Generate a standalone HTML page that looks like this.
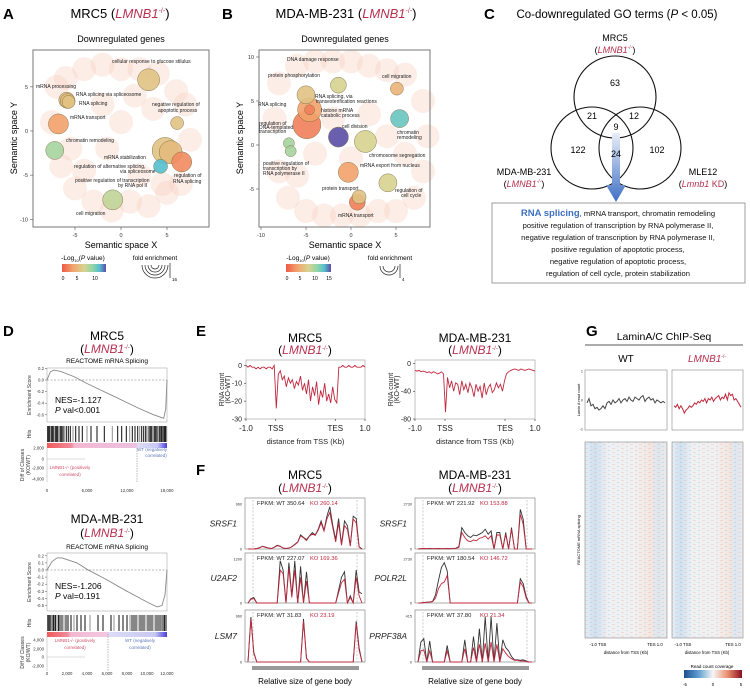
<!DOCTYPE html>
<html><head><meta charset="utf-8">
<style>
body{margin:0;background:#fff;}
svg{display:block;font-family:"Liberation Sans",Arial,sans-serif;}
.red{fill:#b8304f;}
</style></head>
<body>
<svg id="fig" width="750" height="690" viewBox="0 0 750 690" xmlns="http://www.w3.org/2000/svg">
<defs>
<linearGradient id="pvalGrad" x1="0" x2="1" y1="0" y2="0">
<stop offset="0" stop-color="#ee5a48"/><stop offset="0.25" stop-color="#f3a36c"/><stop offset="0.5" stop-color="#d8d390"/><stop offset="0.7" stop-color="#8fd5a8"/><stop offset="0.85" stop-color="#56bfcf"/><stop offset="1" stop-color="#5a4ea6"/>
</linearGradient>
<linearGradient id="rankGrad1" x1="0" x2="1">
<stop offset="0" stop-color="#ef5a5a"/><stop offset="0.2" stop-color="#f08a9a"/><stop offset="0.23" stop-color="#f3b8d2"/><stop offset="0.74" stop-color="#ecc0e0"/><stop offset="0.76" stop-color="#dcdcf6"/><stop offset="0.92" stop-color="#c8c8f2"/><stop offset="1" stop-color="#4a3fd8"/>
</linearGradient>
<linearGradient id="rankGrad2" x1="0" x2="1">
<stop offset="0" stop-color="#ef5a5a"/><stop offset="0.17" stop-color="#f08a9a"/><stop offset="0.2" stop-color="#f3b8d2"/><stop offset="0.5" stop-color="#f3c8e0"/><stop offset="0.52" stop-color="#dcdcf6"/><stop offset="0.9" stop-color="#c8c8f2"/><stop offset="1" stop-color="#4a3fd8"/>
</linearGradient>
<linearGradient id="arrowGrad" x1="0" x2="0" y1="0" y2="1">
<stop offset="0" stop-color="#e8eef8"/><stop offset="1" stop-color="#3f6fc4"/>
</linearGradient>
<linearGradient id="rcGrad" x1="0" x2="1">
<stop offset="0" stop-color="#1d4f8f"/><stop offset="0.25" stop-color="#5f9fd0"/><stop offset="0.5" stop-color="#f6f6f6"/><stop offset="0.75" stop-color="#ec9070"/><stop offset="1" stop-color="#8a0f20"/>
</linearGradient>
<linearGradient id="hmBand" x1="0" x2="1">
<stop offset="0" stop-color="#e6eef5"/><stop offset="0.12" stop-color="#cfe0ef"/><stop offset="0.28" stop-color="#eef0f3"/><stop offset="0.6" stop-color="#f2f0f0"/><stop offset="0.8" stop-color="#f3e6e0"/><stop offset="0.9" stop-color="#dde7f0"/><stop offset="1" stop-color="#eeeaea"/>
</linearGradient>
<pattern id="hmStripes" width="9" height="4" patternUnits="userSpaceOnUse">
<rect width="3" height="1" fill="#e9a088" opacity="0.25"/><rect x="5" y="2" width="2" height="1" fill="#6fa6d6" opacity="0.25"/>
</pattern>
</defs>

<!-- ===== Panel A ===== -->
<g>
<text x="3" y="19" font-size="15" font-weight="bold">A</text>
<text x="120" y="18" font-size="13" text-anchor="middle">MRC5 (<tspan class="red" font-style="italic">LMNB1</tspan><tspan class="red" font-size="7" dy="-5">-/-</tspan><tspan dy="5">)</tspan></text>
<text x="121" y="42" font-size="9" text-anchor="middle">Downregulated genes</text>
<g id="bgA"></g><g id="bubA"></g>
<rect x="33" y="50" width="176" height="177" fill="none" stroke="#777" stroke-width="1"/>
<g id="axA" font-size="5.5" fill="#333"></g>
<text x="121" y="248" font-size="9" text-anchor="middle">Semantic space X</text>
<text transform="translate(17,138) rotate(-90)" font-size="9" text-anchor="middle">Semantic space Y</text>
<g font-size="5" fill="#222">
<text x="112" y="63">cellular response to glucose stilulus</text>
<text x="36" y="88">mRNA processing</text>
<text x="76" y="96">RNA splicing via spliceosome</text>
<text x="79" y="105">RNA splicing</text>
<text x="70" y="119">mRNA transport</text>
<text x="152" y="106">negative regulation of</text><text x="158" y="112">apoptotic process</text>
<text x="66" y="142">chromatin remodeling</text>
<text x="104" y="159">mRNA stabilization</text>
<text x="74" y="168">regulation of alternative splicing,</text><text x="120" y="173">via spliceosome</text>
<text x="75" y="182">positive regulation of transcription</text><text x="118" y="187">by RNA pol II</text>
<text x="174" y="177">regulation of</text><text x="173" y="183">RNA splicing</text>
<text x="76" y="215">cell migration</text>
</g>
<text x="83" y="260" font-size="6.5" text-anchor="middle">-Log<tspan font-size="4" dy="2">10</tspan><tspan dy="-2">(</tspan><tspan font-style="italic">P</tspan> value)</text>
<rect x="62" y="264" width="44" height="8" fill="url(#pvalGrad)"/>
<g font-size="5" text-anchor="middle"><text x="63" y="280">0</text><text x="77" y="280">5</text><text x="95" y="280">10</text></g>
<text x="155" y="260" font-size="6.5" text-anchor="middle">fold enrichment</text>
<g fill="none" stroke="#222" stroke-width="0.7">
<path d="M142,265 A13,13 0 0 0 168,265"/><path d="M145,265 A10,10 0 0 0 165,265"/><path d="M148,265 A7,7 0 0 0 162,265"/><path d="M151,265 A4,4 0 0 0 159,265"/><line x1="170" y1="263" x2="170" y2="278"/>
</g>
<text x="172" y="281" font-size="4.5">16</text>
</g>

<!-- ===== Panel B ===== -->
<g>
<text x="222" y="19" font-size="15" font-weight="bold">B</text>
<text x="346" y="18" font-size="13" text-anchor="middle">MDA-MB-231 (<tspan class="red" font-style="italic">LMNB1</tspan><tspan class="red" font-size="7" dy="-5">-/-</tspan><tspan dy="5">)</tspan></text>
<text x="345" y="42" font-size="9" text-anchor="middle">Downregulated genes</text>
<g id="bgB"></g><g id="bubB"></g>
<rect x="259" y="50" width="171" height="177" fill="none" stroke="#777" stroke-width="1"/>
<g id="axB" font-size="5.5" fill="#333"></g>
<text x="345" y="248" font-size="9" text-anchor="middle">Semantic space X</text>
<text transform="translate(243,138) rotate(-90)" font-size="9" text-anchor="middle">Semantic space Y</text>
<g font-size="5" fill="#222">
<text x="287" y="61">DNA damage response</text>
<text x="268" y="77">protein phosphorylation</text>
<text x="382" y="78">cell migration</text>
<text x="315" y="98">RNA splicing, via</text><text x="316" y="103">transesterification reactions</text>
<text x="258" y="106">RNA splicing</text>
<text x="321" y="112">histone mRNA</text><text x="321" y="117">catabolic process</text>
<text x="259" y="125">regulation of</text><text x="259" y="129">DNA-templated</text><text x="259" y="133">transcription</text>
<text x="342" y="128">cell division</text>
<text x="397" y="134">chromatin</text><text x="397" y="139">remodeling</text>
<text x="369" y="157">chromosome segregation</text>
<text x="263" y="165">positive regulation of</text><text x="263" y="170">transcription by</text><text x="263" y="175">RNA polymerase II</text>
<text x="360" y="167">mRNA export from nucleus</text>
<text x="322" y="190">protein transport</text>
<text x="395" y="192">regulation of</text><text x="401" y="197">cell cycle</text>
<text x="338" y="217">mRNA transport</text>
</g>
<text x="308" y="260" font-size="6.5" text-anchor="middle">-Log<tspan font-size="4" dy="2">10</tspan><tspan dy="-2">(</tspan><tspan font-style="italic">P</tspan> value)</text>
<rect x="286" y="264" width="45" height="8" fill="url(#pvalGrad)"/>
<g font-size="5" text-anchor="middle"><text x="287" y="280">0</text><text x="300" y="280">5</text><text x="315" y="280">10</text><text x="329" y="280">15</text></g>
<text x="390" y="260" font-size="6.5" text-anchor="middle">fold enrichment</text>
<g fill="none" stroke="#222" stroke-width="0.7">
<path d="M380,266 A9,9 0 0 0 398,266"/><path d="M383,266 A6,6 0 0 0 395,266"/><line x1="400" y1="264" x2="400" y2="278"/>
</g>
<text x="402" y="281" font-size="4.5">4</text>
</g>

<!-- ===== Panel C ===== -->
<g>
<text x="484" y="19" font-size="15" font-weight="bold">C</text>
<text x="617" y="18" font-size="11.5" text-anchor="middle">Co-downregulated  GO terms (<tspan font-style="italic">P</tspan> &lt; 0.05)</text>
<text x="615" y="41" font-size="9" text-anchor="middle">MRC5</text>
<text x="615" y="53" font-size="9" text-anchor="middle">(<tspan class="red" font-style="italic">LMNB1</tspan><tspan class="red" font-size="5" dy="-4">-/-</tspan><tspan dy="4">)</tspan></text>
<g fill="none" stroke="#111" stroke-width="1.1">
<circle cx="615" cy="97" r="41"/>
<circle cx="592" cy="148" r="41"/>
<circle cx="640" cy="148" r="41"/>
</g>
<path d="M612,133 h8 v52 h6 l-10,17 l-10,-17 h6 z" fill="url(#arrowGrad)"/>
<g font-size="9" text-anchor="middle">
<text x="615" y="86">63</text><text x="592" y="119">21</text><text x="634" y="119">12</text><text x="616" y="130">9</text>
<text x="578" y="153">122</text><text x="616" y="157">24</text><text x="657" y="153">102</text>
</g>
<text x="524" y="175" font-size="9" text-anchor="middle">MDA-MB-231</text>
<text x="524" y="187" font-size="9" text-anchor="middle">(<tspan class="red" font-style="italic">LMNB1</tspan><tspan class="red" font-size="5" dy="-4">-/-</tspan><tspan dy="4">)</tspan></text>
<text x="703" y="175" font-size="9" text-anchor="middle">MLE12</text>
<text x="703" y="187" font-size="9" text-anchor="middle">(<tspan class="red" font-style="italic">Lmnb1</tspan><tspan class="red"> KD</tspan>)</text>
<rect x="492" y="203" width="253" height="80" fill="#fff" stroke="#888" stroke-width="0.8"/>
<g font-size="7.6" text-anchor="middle" fill="#111">
<text x="618" y="216"><tspan fill="#3d6fbf" font-weight="bold" font-size="9.5">RNA splicing</tspan>, mRNA transport, chromatin remodeling</text>
<text x="618" y="228">positive regulation of transcription by RNA polymerase II,</text>
<text x="618" y="240">negative regulation of transcription by RNA polymerase II,</text>
<text x="618" y="252">positive regulation of apoptotic process,</text>
<text x="618" y="264">negative regulation of apoptotic process,</text>
<text x="618" y="276">regulation of cell cycle, protein stabilization</text>
</g>
</g>

<!-- ===== Panel D ===== -->
<g>
<text x="3" y="336" font-size="15" font-weight="bold">D</text>
<text x="107" y="340" font-size="12" text-anchor="middle">MRC5</text>
<text x="107" y="353" font-size="12" text-anchor="middle">(<tspan class="red" font-style="italic">LMNB1</tspan><tspan class="red" font-size="6" dy="-4">-/-</tspan><tspan dy="4">)</tspan></text>
<text x="107" y="363" font-size="6.5" text-anchor="middle">REACTOME mRNA Splicing</text>
<g id="gsea1"></g>
<text x="55" y="403" font-size="8.5">NES=-1.127</text>
<text x="55" y="413" font-size="8.5"><tspan font-style="italic">P</tspan> val&lt;0.001</text>
<text x="107" y="523" font-size="12" text-anchor="middle">MDA-MB-231</text>
<text x="107" y="537" font-size="12" text-anchor="middle">(<tspan class="red" font-style="italic">LMNB1</tspan><tspan class="red" font-size="6" dy="-4">-/-</tspan><tspan dy="4">)</tspan></text>
<text x="107" y="549" font-size="6.5" text-anchor="middle">REACTOME mRNA Splicing</text>
<g id="gsea2"></g>
<text x="55" y="589" font-size="8.5">NES=-1.206</text>
<text x="55" y="599" font-size="8.5"><tspan font-style="italic">P</tspan> val=0.191</text>
</g>

<!-- ===== Panel E ===== -->
<g>
<text x="196" y="336" font-size="15" font-weight="bold">E</text>
<text x="305" y="342" font-size="12" text-anchor="middle">MRC5</text>
<text x="305" y="354" font-size="12" text-anchor="middle">(<tspan class="red" font-style="italic">LMNB1</tspan><tspan class="red" font-size="6" dy="-4">-/-</tspan><tspan dy="4">)</tspan></text>
<text x="475" y="342" font-size="12" text-anchor="middle">MDA-MB-231</text>
<text x="475" y="354" font-size="12" text-anchor="middle">(<tspan class="red" font-style="italic">LMNB1</tspan><tspan class="red" font-size="6" dy="-4">-/-</tspan><tspan dy="4">)</tspan></text>
<g id="prof1"></g><g id="prof2"></g>
</g>

<!-- ===== Panel F ===== -->
<g>
<text x="196" y="475" font-size="15" font-weight="bold">F</text>
<text x="305" y="479" font-size="12" text-anchor="middle">MRC5</text>
<text x="305" y="492" font-size="12" text-anchor="middle">(<tspan class="red" font-style="italic">LMNB1</tspan><tspan class="red" font-size="6" dy="-4">-/-</tspan><tspan dy="4">)</tspan></text>
<text x="475" y="479" font-size="12" text-anchor="middle">MDA-MB-231</text>
<text x="475" y="492" font-size="12" text-anchor="middle">(<tspan class="red" font-style="italic">LMNB1</tspan><tspan class="red" font-size="6" dy="-4">-/-</tspan><tspan dy="4">)</tspan></text>
<g id="tracks"></g>
<rect x="252" y="666" width="107" height="4" fill="#999"/>
<rect x="422" y="666" width="107" height="4" fill="#999"/>
<text x="305" y="684" font-size="8" text-anchor="middle">Relative size of gene body</text>
<text x="475" y="684" font-size="8" text-anchor="middle">Relative size of gene body</text>
</g>

<!-- ===== Panel G ===== -->
<g>
<text x="586" y="336" font-size="15" font-weight="bold">G</text>
<text x="664" y="340" font-size="10.5" text-anchor="middle">LaminA/C  ChIP-Seq</text>
<line x1="585" y1="345" x2="743" y2="345" stroke="#222" stroke-width="0.8"/>
<text x="626" y="362" font-size="10" text-anchor="middle">WT</text>
<text x="707" y="362" font-size="10" text-anchor="middle"><tspan class="red" font-style="italic">LMNB1</tspan><tspan class="red" font-size="5" dy="-4">-/-</tspan></text>
<text transform="translate(580,400) rotate(-90)" font-size="3.8" text-anchor="middle">Lamin A read count</text>
<g id="gprof"></g>
<text transform="translate(580,540) rotate(-90)" font-size="4" text-anchor="middle">REACTOME mRNA splicing</text>
<g>
<rect x="585" y="442" width="82" height="196" fill="url(#hmBand)"/>
<rect x="585" y="442" width="82" height="196" fill="url(#hmStripes)"/>
<rect x="585" y="442" width="82" height="196" fill="none" stroke="#888" stroke-width="0.6"/>
</g>
<g>
<rect x="672" y="442" width="71" height="196" fill="url(#hmBand)"/>
<rect x="672" y="442" width="71" height="196" fill="url(#hmStripes)"/>
<rect x="672" y="442" width="71" height="196" fill="none" stroke="#888" stroke-width="0.6"/>
</g>
<g font-size="4.3" text-anchor="middle">
<text x="598" y="646">-1.0 TSS</text><text x="655" y="646">TES  1.0</text>
<text x="683" y="646">-1.0 TSS</text><text x="733" y="646">TES  1.0</text>
<text x="626" y="654">distance from TSS (Kb)</text><text x="707" y="654">distance from TSS (Kb)</text>
</g>
<text x="712" y="668" font-size="4.5" text-anchor="middle">Read count coverage</text>
<rect x="684" y="670" width="58" height="8" fill="url(#rcGrad)"/>
<g font-size="4.3" text-anchor="middle"><text x="685" y="686">-5</text><text x="713" y="686">0</text><text x="741" y="686">5</text></g>
</g>
</svg>

<script>
// ---------- Data: panel A ----------
const aTerms = ["cellular response to glucose stilulus","mRNA processing","RNA splicing via spliceosome","RNA splicing","mRNA transport","negative regulation of apoptotic process","chromatin remodeling","mRNA stabilization","regulation of alternative splicing","regulation of RNA splicing","positive regulation of transcription by RNA pol II","cell migration"];
const aX = [3.0,-5.9,-5.8,-5.7,-6.8,6.1,-7.2,4.8,5.4,6.6,4.3,-0.9];
const aY = [5.8,3.5,3.4,3.3,0.8,0.9,-2.2,-2.2,-2.4,-3.5,-4.0,-7.8];
const aFold = [11,8,7.5,6.5,10,6.5,9,13,11.5,10,7,10];
const aLogP = [5,5,4.5,5,3,5,8,5,4.5,2,12,7];
const aBgX = [-6,-4,-2,0,2,4,6,-7,7,-7.5,7.5,-6.5,6.5,-5,5,-3,3,-1,1,-4,2,0,-2,3.5,-5.5,1.5,-1.5,4.5];
const aBgY = [6,7,7.5,7,7,6.5,4.5,5,3,1,-1,-4,-6,-6.5,-7,-8,-8.5,-9,-8,-4.5,-5,1,3,2.5,-2,4,-2,-6];
// ---------- Data: panel B ----------
const bTerms = ["DNA damage response","protein phosphorylation","RNA splicing, via transesterification","RNA splicing","histone mRNA catabolic process","cell migration","chromatin remodeling","cell division","chromosome segregation","regulation of DNA-templated transcription","positive regulation of transcription by RNA pol II","mRNA export from nucleus","regulation of cell cycle","mRNA transport","protein transport"];
const bX = [-1.4,-5.0,-4.6,-4.6,-4.9,5.1,5.4,-1.4,1.6,-6.9,-6.7,-0.3,4.1,0.7,0.9];
const bY = [6.8,5.7,4.0,4.0,2.3,6.4,3.0,0.9,0.4,0.2,-0.7,-3.1,-4.3,-6.5,-5.9];
const bFold = [8,9,12,5,14,6.5,9,10,11,5.5,5.5,10,9,8,7];
const bLogP = [6,5,3,1.5,1.5,4,11,15,6,8,8,3,6,1.5,5];
const bBgX = [-8,-6,-4,-2,0,2,4,6,8,-8.5,8.5,-8,8,-7,7,-5,5,-3,3,-1,1,-6,2,-2,4,0,6,-4];
const bBgY = [7,9,9.5,9.5,9.5,9,8.5,8,5,3,1,-3,-3,-6,-6,-7.5,-7.5,-8,-7.5,-8,-8,-3.5,3.5,3,1,-1.5,-1,-1];

// ---------- Data: panel D (GSEA) ----------
const es1Rank = [0,500,1000,2000,4000,6000,8000,10000,12000,14000,16000,17000,17500,17800,18000];
const es1Val = [0,0.14,0.17,0.15,0.06,-0.06,-0.17,-0.28,-0.39,-0.5,-0.6,-0.64,-0.66,-0.5,0];
const hits1 = [100,250,400,550,700,800,950,1100,1300,1450,1600,1800,2000,2200,2400,2600,2900,3200,3500,3900,4300,4800,5300,6000,6600,7500,8600,9800,10600,11200,11900,12400,12800,13200,13600,13900,14200,14500,14800,15000,15300,15500,15700,15900,16100,16300,16500,16700,16900,17100,17250,17400,17550,17700,17850,17950];
const es2Rank = [0,500,1000,1500,3000,4000,6000,8000,10000,11000,11500,11800,12000];
const es2Val = [0,0.12,0.17,0.17,0.1,0.01,-0.14,-0.3,-0.45,-0.52,-0.5,-0.35,0];
const hits2 = [80,200,320,450,600,700,850,1000,1150,1300,1500,1700,1900,2100,2400,2700,3000,3400,3800,4300,5100,5600,6400,6700,7200,7600,8000,8300,8500,8700,8900,9100,9300,9500,9700,9900,10100,10300,10500,10700,10900,11100,11300,11450,11600,11750,11900];
const es1Ticks = [0.2,0.0,-0.2,-0.4,-0.6];
const es2Ticks = [0.2,0.1,0.0,-0.1,-0.2,-0.3,-0.4,-0.5];
const rank1Ticks = [0,6000,12000,18000];
const rank2Ticks = [0,2000,4000,6000,8000,10000,12000];

// ---------- Data: panel E (RNA count profiles) ----------
const e1Vals = [0,-1,0,-1,-1,-2,-1,-2,-1,-1,-2,-1,-1,-2,0,-24,-5,-3,-8,-6,-12,-7,-10,-8,-13,-9,-11,-6,-14,-10,-16,-8,-20,-12,-17,-9,-22,-14,-18,-10,-20,-16,-21,-12,-19,-21,-1,-1,0,-1,-1,0,-1,-1,0,-1,-1,-1,0,-1];
const e2Vals = [-10,-11,-10,-12,-11,-12,-13,-12,-14,-12,-13,-15,-14,-12,-15,-70,-20,-35,-25,-40,-28,-30,-45,-25,-38,-30,-42,-28,-35,-48,-30,-40,-33,-50,-28,-45,-35,-30,-42,-38,-28,-35,-30,-40,-25,-15,-12,-10,-9,-8,-9,-10,-8,-9,-10,-9,-8,-9,-10,-11];
const e1Ticks = [0,-10,-20,-30];
const e2Ticks = [0,-40,-80];
const eXTicks = ["-1.0","TSS","TES","1.0"];

// ---------- Data: panel F (coverage tracks) ----------
const fGenes = ["SRSF1","U2AF2","LSM7","SRSF1","POLR2L","PRPF38A"];
const fMax = [960,1200,960,2730,2730,415];
const fWtFpkm = ["350.64","227.07","31.83","221.92","180.54","37.80"];
const fKoFpkm = ["260.14","169.36","23.19","153.88","146.72","21.34"];
const fWt = [
[0,0,0,10,30,60,40,20,10,40,80,60,20,10,20,50,100,150,300,250,200,280,350,300,420,600,400,700,900,500,200,650,100,600,500,80,700,650,50,0],
[0,120,150,0,0,0,0,0,0,0,0,1150,900,0,1100,200,1150,0,1000,0,850,0,0,0,0,0,0,0,0,0,0,350,700,850,0,200,0,900,300,250],
[0,940,200,0,0,0,0,0,0,0,0,0,0,0,0,0,0,0,0,900,80,0,0,0,0,0,0,0,0,0,0,0,0,0,0,0,0,850,300,0],
[0,20,30,20,30,20,20,30,20,20,30,20,30,50,150,1300,1000,800,700,850,800,900,1000,1200,900,1100,0,1000,1000,0,1000,0,1300,0,0,2400,1800,0,0,0],
[0,0,30,50,60,100,500,1400,2200,2500,2000,0,0,0,0,0,0,0,0,0,0,0,0,0,0,0,0,0,0,0,0,0,0,0,0,1500,1200,400,0,0],
[0,180,210,0,190,0,0,0,0,0,150,0,0,0,0,0,200,0,0,230,0,300,0,410,0,410,0,350,0,200,130,100,50,20,20,15,20,10,0,0]];
const fKo = [
[0,0,0,10,25,55,35,20,10,35,70,55,20,10,20,45,90,140,280,240,180,270,320,290,400,560,380,640,780,450,150,560,80,500,420,60,640,560,40,0],
[0,100,120,0,0,0,0,0,0,0,0,900,800,0,950,150,900,0,700,0,600,0,0,0,0,0,0,0,0,0,0,280,550,650,0,150,0,700,200,0],
[0,900,180,0,0,0,0,0,0,0,0,0,0,0,0,0,0,0,0,850,70,0,0,0,0,0,0,0,0,0,0,0,0,0,0,0,0,800,250,0],
[0,20,30,20,30,20,20,30,20,20,30,20,30,40,100,1000,700,500,450,550,500,650,700,800,600,800,0,850,850,0,900,0,1200,0,0,2100,1500,0,0,0],
[0,0,30,40,60,80,300,900,1200,1300,1700,0,0,0,0,0,0,0,0,0,0,0,0,0,0,0,0,0,0,0,0,0,0,0,0,1300,1000,300,0,0],
[0,100,110,0,100,0,0,0,0,0,100,0,0,0,0,0,120,0,0,130,0,160,0,170,0,180,0,160,0,120,80,50,30,15,15,10,10,5,0,0]];

// ---------- Data: panel G (ChIP profiles) ----------
const gWt = [-0.1,0.05,-0.2,-0.15,-0.3,-0.25,-0.35,-0.3,-0.2,-0.3,-0.1,-0.05,-0.15,0,-0.1,-0.05,0.05,-0.1,0,0.05,-0.05,0.1,0,-0.05,0.1,0.05,0,0.1,0.15,-0.05,0.05,0.1,0,0.05,-0.1,0,-0.05,-0.1,-0.05,-0.1];
const gKo = [-0.2,-0.25,-0.15,-0.3,-0.2,-0.3,-0.45,-0.35,-0.3,-0.2,-0.25,-0.2,-0.1,-0.15,-0.05,-0.1,0,-0.05,0.05,-0.1,0.05,0,0.1,-0.05,0.05,0.1,0.15,0,0.1,0.05,0.2,0,0.25,0.15,0.2,0,0.05,-0.05,-0.15,-0.25];
const gTicks = [1,0,-1];

const NS = "http://www.w3.org/2000/svg";
function mk(parent, tag, attrs){ const e=document.createElementNS(NS,tag); for(const k in attrs) e.setAttribute(k,attrs[k]); parent.appendChild(e); return e; }
function txt(parent, x, y, s, size, anchor, fill){ const t=mk(parent,"text",{x:x,y:y,"font-size":size,"text-anchor":anchor||"start",fill:fill||"#222"}); t.textContent=s; return t; }
const stops=[[0,[238,90,72]],[3,[243,163,108]],[6,[216,211,144]],[9,[143,213,168]],[12,[86,191,207]],[15,[90,78,166]]];
function pcol(v){ v=Math.max(0,Math.min(15,v)); for(let i=0;i<stops.length-1;i++){ if(v<=stops[i+1][0]){ const t=(v-stops[i][0])/(stops[i+1][0]-stops[i][0]); const a=stops[i][1],b=stops[i+1][1]; return "rgb("+a.map((c,j)=>Math.round(c+(b[j]-c)*t)).join(",")+")"; } } return "rgb(90,78,166)"; }

// ----- bubble plots -----
function bubbles(bgId,bubId,axId,xs,ys,folds,lps,bgx,bgy,sx,sy,xt,yt,box){
  const bg=document.getElementById(bgId), bb=document.getElementById(bubId), ax=document.getElementById(axId);
  for(let i=0;i<bgx.length;i++){
    const c=mk(bg,"circle",{cx:sx(bgx[i]),cy:sy(bgy[i]),r:12,fill:"#f7d3c4",opacity:0.4});
    
    
  }
  const order=xs.map((_,i)=>i).sort((a,b)=>folds[b]-folds[a]);
  order.forEach(i=>{
    const c=mk(bb,"circle",{cx:sx(xs[i]),cy:sy(ys[i]),r:folds[i],fill:pcol(lps[i]),stroke:"#7a6a40","stroke-width":0.5,opacity:0.9});
    
    
  });
  xt.forEach(v=>{ mk(ax,"line",{x1:sx(v),x2:sx(v),y1:box.b,y2:box.b+3,stroke:"#555","stroke-width":0.6}); txt(ax,sx(v),box.b+10,String(v),5.5,"middle","#333"); });
  yt.forEach(v=>{ mk(ax,"line",{x1:box.l-3,x2:box.l,y1:sy(v),y2:sy(v),stroke:"#555","stroke-width":0.6}); txt(ax,box.l-5,sy(v)+2,String(v),5.5,"end","#333"); });
}
bubbles("bgA","bubA","axA",aX,aY,aFold,aLogP,aBgX,aBgY,x=>121+x*9.2,y=>131-y*8.83,[-5,0,5],[5,0,-5,-10],{l:33,b:227});
bubbles("bgB","bubB","axB",bX,bY,bFold,bLogP,bBgX,bBgY,x=>351+x*9.0,y=>145-y*8.8,[-10,-5,0,5],[10,5,0,-5],{l:259,b:227});

// ----- GSEA -----
function fmtK(v){ return v===0?"0":v.toLocaleString("en-US"); }
function gsea(id,ranks,vals,hits,maxRank,esTop,esBot,esZero,esScale,esTicks,rankTicks,grad,dashRank,diffTop,diffBot,diffTicks,diffZeroY,tickY,posLbl,negLbl){
  const g=document.getElementById(id);
  const L=47,R=167, sx=r=>L+r/maxRank*(R-L), sy=v=>esZero-v*esScale;
  mk(g,"rect",{x:L,y:esTop,width:R-L,height:esBot-esTop,fill:"none",stroke:"#aaa","stroke-width":0.6});
  mk(g,"line",{x1:L,x2:R,y1:esZero,y2:esZero,stroke:"#777","stroke-width":0.6,"stroke-dasharray":"2,1.5"});
  esTicks.forEach(v=>{ mk(g,"line",{x1:L-2,x2:L,y1:sy(v),y2:sy(v),stroke:"#555","stroke-width":0.5}); txt(g,L-3,sy(v)+1.5,v.toFixed(1),4.3,"end","#333"); });
  const p=mk(g,"path",{d:ranks.map((r,i)=>(i?"L":"M")+sx(r).toFixed(1)+","+sy(vals[i]).toFixed(1)).join(""),fill:"none",stroke:"#888","stroke-width":0.9});
  
  
  const hTop=esBot+4,hBot=hTop+16;
  hits.forEach((r,i)=>{
    const l=mk(g,"line",{x1:sx(r),x2:sx(r),y1:hTop,y2:hBot,stroke:(i%4===3?"#999":"#222"),"stroke-width":1.1});
    
    
  });
  mk(g,"rect",{x:L,y:hBot+1,width:R-L,height:5,fill:"url(#"+grad+")"});
  mk(g,"line",{x1:L,x2:L,y1:diffTop,y2:diffBot,stroke:"#aaa","stroke-width":0.5});
  mk(g,"line",{x1:L,x2:L+38,y1:diffZeroY,y2:diffZeroY,stroke:"#bbb","stroke-width":0.5});
  mk(g,"line",{x1:sx(dashRank),x2:sx(dashRank),y1:diffTop,y2:diffBot,stroke:"#777","stroke-width":0.5,"stroke-dasharray":"1.5,1"});
  diffTicks.forEach(t=>{ txt(g,L-3,t[1]+1.5,t[0],4.3,"end","#333"); });
  rankTicks.forEach(r=>{ txt(g,sx(r),tickY,fmtK(r),4.3,"middle","#333"); });
  posLbl.forEach(t=>txt(g,t[0],t[1],t[2],4.5,"middle","#d0506a"));
  negLbl.forEach(t=>txt(g,t[0],t[1],t[2],4.5,"middle","#5a78b8"));
  const yl=(y,s,x)=>{ const t=mk(g,"text",{transform:"translate("+x+","+y+") rotate(-90)","font-size":5,"text-anchor":"middle",fill:"#333"}); t.textContent=s; };
  yl((esTop+esBot)/2,"Enrichment Score",31); yl((hTop+hBot)/2,"Hits",31); yl((diffTop+diffBot)/2,"Diff of Classes",24); yl((diffTop+diffBot)/2,"(KO/WT)",30);
}
gsea("gsea1",es1Rank,es1Val,hits1,18000,368,422,380,58,es1Ticks,rank1Ticks,"rankGrad1",13500,448,482,[["2,000",448],["0",459],["-2,000",468],["-4,000",479]],459,492,
 [[70,469,"LMNB1-/- (positively"],[70,476,"correlated)"]],[[152,451,"WT (negatively"],[156,457,"correlated)"]]);
gsea("gsea2",es2Rank,es2Val,hits2,12000,553,611,570,71,es2Ticks,rank2Ticks,"rankGrad2",6100,634,671,[["4,000",640],["2,000",649],["0",657],["-2,000",666]],657,675,
 [[75,642,"LMNB1-/- (positively"],[75,649,"correlated)"]],[[140,642,"WT (negatively"],[140,649,"correlated)"]]);

// ----- E profiles -----
function profile(id,vals,L,R,T,B,vmax,vmin,ticks){
  const g=document.getElementById(id);
  const n=vals.length, sx=i=>L+i/(n-1)*(R-L), sy=v=>T+(vmax-v)/(vmax-vmin)*(B-T);
  mk(g,"rect",{x:L,y:T,width:R-L,height:B-T,fill:"none",stroke:"#999","stroke-width":0.6});
  const p=mk(g,"path",{d:vals.map((v,i)=>(i?"L":"M")+sx(i).toFixed(1)+","+sy(v).toFixed(1)).join(""),fill:"none",stroke:"#c0283e","stroke-width":0.9});
  
  
  ticks.forEach(v=>{ mk(g,"line",{x1:L-2,x2:L,y1:sy(v),y2:sy(v),stroke:"#333","stroke-width":0.6}); txt(g,L-4,sy(v)+2.5,String(v),7,"end","#222"); });
  const xs=[L,L+(R-L)/4,L+3*(R-L)/4,R];
  xs.forEach((x,i)=>{ mk(g,"line",{x1:x,x2:x,y1:B,y2:B+2,stroke:"#333","stroke-width":0.6}); txt(g,x,B+12,eXTicks[i],8,"middle","#222"); });
  txt(g,(L+R)/2,B+25,"distance from TSS (Kb)",7.5,"middle","#222");
  const t=mk(g,"text",{transform:"translate("+(L-22)+","+((T+B)/2)+") rotate(-90)","font-size":7,"text-anchor":"middle",fill:"#222"}); t.textContent="RNA count";
  const t2=mk(g,"text",{transform:"translate("+(L-16)+","+((T+B)/2)+") rotate(-90)","font-size":7,"text-anchor":"middle",fill:"#222"}); t2.textContent="(KO-WT)";
}
profile("prof1",e1Vals,246,365,360,419,3,-30,e1Ticks);
profile("prof2",e2Vals,415,535,360,419,5,-80,e2Ticks);

// ----- F tracks -----
(function(){
  const g=document.getElementById("tracks");
  const boxes=[[245,365,498,549],[245,365,553,603],[245,365,610,662],[415,535,498,549],[415,535,553,603],[415,535,610,662]];
  fGenes.forEach((gene,k)=>{
    const [L,R,T,B]=boxes[k], n=fWt[k].length, sx=i=>L+3+i/(n-1)*(R-L-6), sy=v=>B-v/fMax[k]*(B-T-6);
    mk(g,"rect",{x:L,y:T,width:R-L,height:B-T,fill:"#fff",stroke:"#888","stroke-width":0.7});
    [L+8,R-8].forEach(x=>mk(g,"line",{x1:x,x2:x,y1:T+2,y2:B,stroke:"#999","stroke-width":0.5,"stroke-dasharray":"2,1.5"}));
    const pw=mk(g,"path",{d:fWt[k].map((v,i)=>(i?"L":"M")+sx(i).toFixed(1)+","+sy(v).toFixed(1)).join(""),fill:"none",stroke:"#333","stroke-width":0.9});
    
    
    const pk=mk(g,"path",{d:fKo[k].map((v,i)=>(i?"L":"M")+sx(i).toFixed(1)+","+sy(v).toFixed(1)).join(""),fill:"none",stroke:"#c0283e","stroke-width":0.9});
    
    
    txt(g,L-3,sy(fMax[k])+1.5,String(fMax[k]),3.8,"end","#333");
    txt(g,L-3,B+1.5,"0",3.8,"end","#333");
    const gt=txt(g,L-8,(T+B)/2+3,gene,8.5,"end","#222"); gt.setAttribute("font-style","italic");
    txt(g,L+12,T+7,"FPKM:   WT "+fWtFpkm[k],5.8,"start","#222");
    txt(g,L+65,T+7,"KO "+fKoFpkm[k],5.8,"start","#c0283e");
  });
})();

// ----- G profiles -----
(function(){
  const g=document.getElementById("gprof");
  [[585,667,gWt,"#444"],[672,743,gKo,"#c0283e"]].forEach(([L,R,vals,col],k)=>{
    const T=370,B=430, n=vals.length, sx=i=>L+2+i/(n-1)*(R-L-4), sy=v=>400-v*29;
    mk(g,"rect",{x:L,y:T,width:R-L,height:B-T,fill:"none",stroke:"#888","stroke-width":0.6});
    const p=mk(g,"path",{d:vals.map((v,i)=>(i?"L":"M")+sx(i).toFixed(1)+","+sy(v).toFixed(1)).join(""),fill:"none",stroke:col,"stroke-width":1});
    
    
    if(k===0) gTicks.forEach(v=>txt(g,L-2,sy(v)+1.5,String(v),3.8,"end","#333"));
  });
})();
</script>
</body></html>
